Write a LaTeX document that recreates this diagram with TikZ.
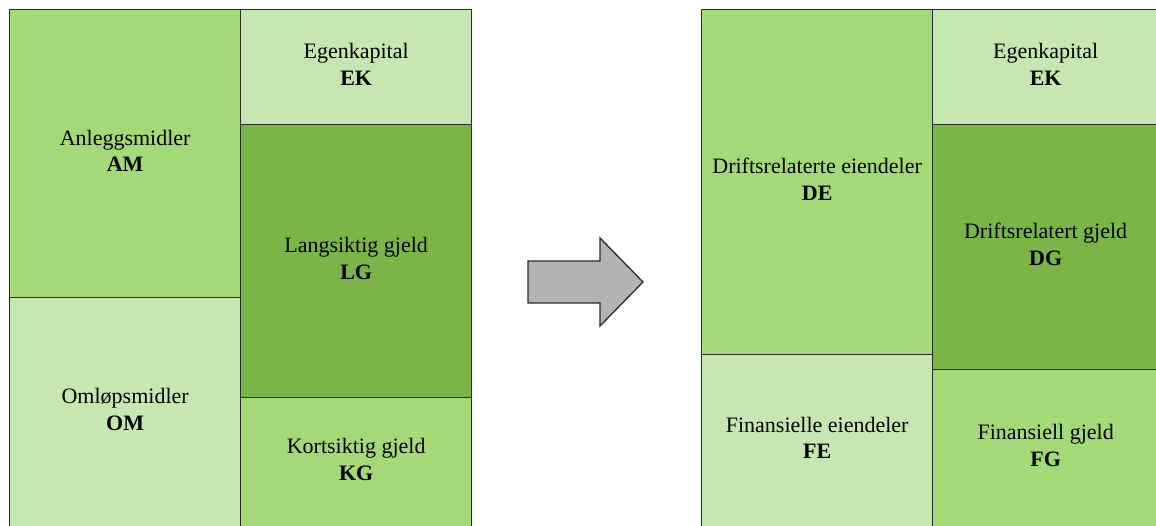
\documentclass[tikz,border=0pt]{standalone}
\usepackage{fontspec}
\setmainfont{Liberation Serif}
\definecolor{lightg}{HTML}{C6E8B0}
\definecolor{midg}{HTML}{A4D978}
\definecolor{darkg}{HTML}{7BB547}
\definecolor{arrowfill}{HTML}{B3B3B3}
\definecolor{edge}{HTML}{2B2B2B}
\tikzset{
  box/.style={draw=edge, line width=1.3pt, anchor=north west, inner sep=0pt,
    align=center, text depth=6pt, font=\fontsize{22}{26.5}\selectfont},
}
\begin{document}
\begin{tikzpicture}[x=1pt,y=-1pt]
\clip (0,0) rectangle (1156,525);
\fill[white] (0,0) rectangle (1156,525);
% balance before
\node[box, fill=midg,   minimum width=231pt, minimum height=288pt] (am) at (9,9)   {Anleggsmidler\\\textbf{AM}};
\node[box, fill=lightg, minimum width=231pt, minimum height=229pt] (om) at (9,297) {Omløpsmidler\\\textbf{OM}};
\node[box, fill=lightg, minimum width=231pt, minimum height=115pt] (ek1) at (240,9)  {Egenkapital\\\textbf{EK}};
\node[box, fill=darkg,  minimum width=231pt, minimum height=273pt] (lg) at (240,124) {Langsiktig gjeld\\\textbf{LG}};
\node[box, fill=midg,   minimum width=231pt, minimum height=129pt] (kg) at (240,397) {Kortsiktig gjeld\\\textbf{KG}};
% transition arrow
\draw[draw=edge, line width=1.3pt, fill=arrowfill, line join=miter]
  (528,261) -- (600,261) -- (600,238) -- (643,282) -- (600,326) -- (600,303) -- (528,303) -- cycle;
% balance after
\node[box, fill=midg,   minimum width=231pt, minimum height=345pt] (de) at (701,9)   {Driftsrelaterte eiendeler\\\textbf{DE}};
\node[box, fill=lightg, minimum width=231pt, minimum height=172pt] (fe) at (701,354) {Finansielle eiendeler\\\textbf{FE}};
\node[box, fill=lightg, minimum width=226pt, minimum height=115pt] (ek2) at (932,9)  {Egenkapital\\\textbf{EK}};
\node[box, fill=darkg,  minimum width=226pt, minimum height=245pt] (dg) at (932,124) {Driftsrelatert gjeld\\\textbf{DG}};
\node[box, fill=midg,   minimum width=226pt, minimum height=157pt] (fg) at (932,369) {Finansiell gjeld\\\textbf{FG}};
\end{tikzpicture}
\end{document}
